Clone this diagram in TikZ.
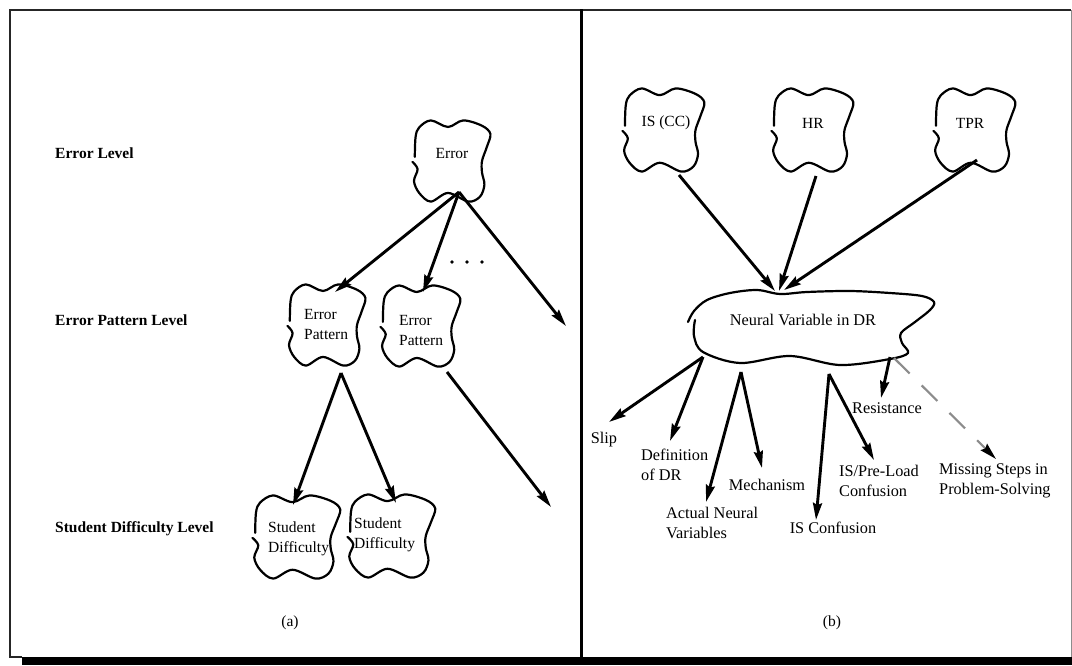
\documentclass[tikz,border=0pt]{standalone}
\usepackage{fontspec}
\setmainfont{Liberation Serif}
\usetikzlibrary{arrows.meta}

% wavy, slightly open outline around a concept (centre, half width, half height)
\newcommand\wavyblob[3]{%
  \draw[blobline, shift={(#1)}, xscale=#2, yscale=#3]
    plot[smooth, tension=0.55] coordinates {
      (-0.93,-0.10) (-0.91,-0.59) (-0.82,-0.82) (-0.53,-0.99) (-0.10,-0.83)
      (0.28,-0.99) (0.75,-0.86) (0.96,-0.66) (0.87,-0.34) (0.75,0.00)
      (0.75,0.28) (0.81,0.58) (0.70,0.87) (0.41,0.99) (-0.10,0.78)
      (-0.53,0.99) (-0.82,0.78) (-0.95,0.49) (-0.86,0.20) (-0.99,0.02)};}

\begin{document}
\begin{tikzpicture}[x=1pt,y=-1pt,
  txt/.style={inner sep=0pt, font=\fontsize{15.5}{20}\selectfont, align=center},
  lefttxt/.style={txt, anchor=west, align=left},
  btxt/.style={inner sep=0pt, font=\fontsize{16.3}{19.5}\selectfont, align=center},
  leftbtxt/.style={btxt, anchor=west, align=left},
  lvl/.style={inner sep=0pt, anchor=west, font=\fontsize{15.5}{20}\selectfont\bfseries},
  blobline/.style={line width=2.2pt, line join=round, line cap=round},
  arr/.style={line width=2.9pt, -{Stealth[length=17pt,width=9pt,inset=2pt]}},
  dasharr/.style={line width=2.2pt, draw=black!45, dash pattern=on 22pt off 17pt,
    -{Stealth[length=17pt,width=9pt,inset=2pt,black]}}]

\useasboundingbox (0,0) rectangle (1072,665);

% ---- frame, divider and drop shadow ----
\fill[black] (22,656.5) rectangle (1072,665);
\draw[line width=2.2pt, black!85] (1071,10) -- (10,10) -- (10,657) -- (22,657);
\draw[line width=1pt, black!45] (1071,10) -- (1071,657);
\draw[line width=3.2pt] (581.5,9) -- (581.5,657);

% ================= panel (a) =================
\node[lvl] (lvlerr) at (55,153) {Error Level};
\node[lvl] (lvlpat) at (55,320) {Error Pattern Level};
\node[lvl] (lvlstu) at (55,529) {Student Difficulty Level};

\node[txt] (err) at (452,153) {Error};
\node[lefttxt] (ep1) at (304,324) {Error\\Pattern};
\node[lefttxt] (ep2) at (399,330) {Error\\Pattern};
\node[lefttxt] (sd1) at (268,539) {Student\\Difficulty};
\node[lefttxt] (sd2) at (354,535) {Student\\Difficulty};

\wavyblob{452,161}{40}{41}
\wavyblob{327,325}{40}{41}
\wavyblob{421,326}{41}{41}
\wavyblob{297,537}{45}{42}
\wavyblob{392,536}{45}{42}

\coordinate (err-o) at (459,192);
\coordinate (ep1-i) at (335,292);
\coordinate (ep2-i) at (423,292);
\coordinate (more1) at (566,326);
\coordinate (ep1-o) at (341,373);
\coordinate (sd1-i) at (293,505);
\coordinate (sd2-i) at (396,503);
\coordinate (ep2-o) at (447,372);
\coordinate (more2) at (551,507);

\draw[arr] (err-o) -- (ep1-i);
\draw[arr] (err-o) -- (ep2-i);
\draw[arr] (err-o) -- (more1);
\draw[arr] (ep1-o) -- (sd1-i);
\draw[arr] (ep1-o) -- (sd2-i);
\draw[arr] (ep2-o) -- (more2);

\foreach \dx in {452,467,482} \fill (\dx,262) circle (1.9);

\node[txt] (capa) at (290,623) {(a)};

% ================= panel (b) =================
\node[txt] (iscc) at (666,123) {IS (CC)};
\node[txt] (hr) at (813,123) {HR};
\node[txt] (tpr) at (970,123) {TPR};
\node[btxt] (nv) at (803,320) {Neural Variable in DR};

\wavyblob{664,130}{42}{42}
\wavyblob{813,130}{42}{42}
\wavyblob{975,130}{42}{42}

\draw[blobline] plot[smooth, tension=0.55] coordinates {
  (695,320) (694,336) (703,352) (740,363) (790,356) (840,365) (890,359)
  (908,353) (902,343) (901,333) (915,322) (930,310) (934,302) (922,296)
  (890,293) (850,291) (807,292) (780,294) (757,290) (730,293) (707,300)
  (694,311) (688,322)};

\coordinate (iscc-o) at (679,175);
\coordinate (hr-o) at (816,176);
\coordinate (tpr-o) at (977,160);
\coordinate (nv-i1) at (775,291);
\coordinate (nv-i2) at (779,291);
\coordinate (nv-i3) at (784,290);

\draw[arr] (iscc-o) -- (nv-i1);
\draw[arr] (hr-o) -- (nv-i2);
\draw[arr] (tpr-o) -- (nv-i3);

\node[btxt] (slip) at (604,440) {Slip};
\node[leftbtxt] (def) at (641,465) {Definition\\of DR};
\node[leftbtxt] (anv) at (666,523) {Actual Neural\\Variables};
\node[btxt] (mech) at (767,485) {Mechanism};
\node[btxt] (iscf) at (833,528) {IS Confusion};
\node[btxt] (res) at (887,408) {Resistance};
\node[leftbtxt] (ispl) at (839,481) {IS/Pre-Load\\Confusion};
\node[leftbtxt] (miss) at (939,481) {Missing Steps in\\Problem-Solving};

\coordinate (nv-o1) at (703,357);
\coordinate (nv-o2) at (741,372);
\coordinate (nv-o3) at (829,374);
\coordinate (nv-o4) at (890,357);
\coordinate (nv-o5) at (894,358);
\coordinate (slip-i) at (609,422);
\coordinate (def-i) at (670,441);
\coordinate (anv-i) at (706,502);
\coordinate (mech-i) at (762,468);
\coordinate (iscf-i) at (816,520);
\coordinate (ispl-i) at (874,460);
\coordinate (res-i) at (881,398);
\coordinate (miss-i) at (996,459);

\draw[arr] (nv-o1) -- (slip-i);
\draw[arr] (nv-o1) -- (def-i);
\draw[arr] (nv-o2) -- (anv-i);
\draw[arr] (nv-o2) -- (mech-i);
\draw[arr] (nv-o3) -- (iscf-i);
\draw[arr] (nv-o3) -- (ispl-i);
\draw[arr] (nv-o4) -- (res-i);
\draw[dasharr] (nv-o5) -- (miss-i);

\node[txt] (capb) at (832,623) {(b)};
\end{tikzpicture}
\end{document}
